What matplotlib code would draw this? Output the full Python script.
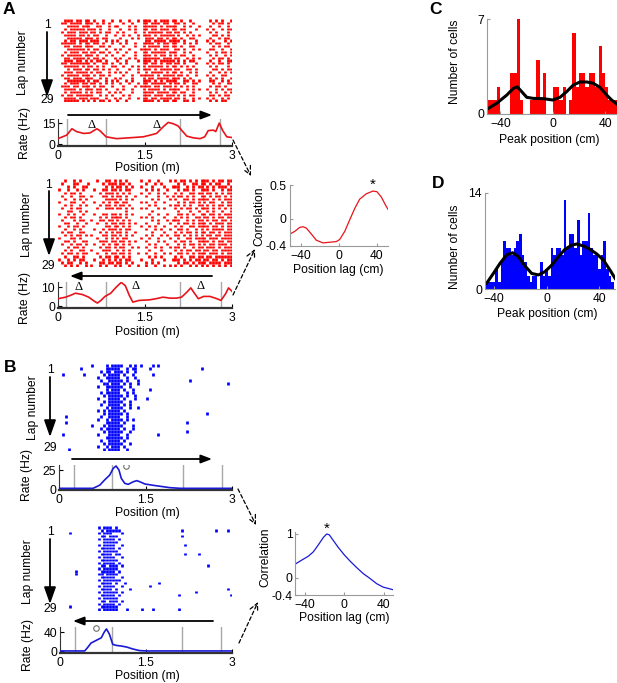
import numpy as np
import matplotlib
matplotlib.use('Agg')
import matplotlib.pyplot as plt
from matplotlib.patches import FancyArrowPatch

plt.rcParams['font.family'] = ['Liberation Sans', 'DejaVu Sans']
FS = 8.7
W, H = 617, 683
BIN = 0.05   # raster bin (m), one char per bin

# ---------------- data ----------------
# rasters: one string per lap, '|' = spike in that 5 cm bin
A_top_laps = [
    "..|||.||.| |.|..|..|. .|..|..|.| ||.|.|||.| |.|..|.... ..|.|.|..|",
    ".||.||||.| ||.|.|.|.. ..|..|...| |.|||.||.. ||.|..|... ...|.||.|.",
    "...||||.|| |..||..|.| |...|.|..| ||||.|.||| |..|.|..|. ..|..|..|.",
    "..|.|||||. |||.|..|.. .|..|.|..| |.||.|||.| |.||...|.. .|.|..|.||",
    ".|.|||.||| .||.|.||.. |.|...|..| .|||||.||. ||.|.|.... ..|.|...|.",
    "..||||.||. |.||..|..| ..|.|..|.| ||.|.||||| .|..|.|.|. ...||.|.|.",
    "...|||||.| ||.|.||... .|...|.|.. |||.||.|.| |.|..||... ..|..|.||.",
    "..|.||.||| .|||..|.|. |..|...... ||.||||.|| ||.|...|.. .|.|...|.|",
    ".|||||.|.| |.||.|..|. .|.|..|..| |||.|.||.| |..|.|.|.. ..|.||..|.",
    "..||.|||.| ||..||.|.. ..|...|..| .||||.||.| |.|..||... ...|.|.||.",
    "...||||||. |.||..|..| .|..|...|| ||.|.|||.. ||.|..|.|. ..||..|..|",
    "..|.|||.|| .||.||.|.. |..|..|..| |.|||||.|| |..|.|.... .|..|.||.|",
    ".|.|||||.| ||.|..|.|. ..|...|..| ||.|.||.|. |.||..|... ..|.|..|.|",
    "..||.||||. |.||.|...| .|..|.|..| |||||.|||. ||..|.|.|. ...|.||.|.",
    "..|||.||.| .|.||.|... |..|...|.| ||.|.||||| .|.|.||... ..|..|..||",
    ".||.|||||| |.|..||.|. .|.|.....| |.||.|.||. ||.|...|.. .|.|.||.|.",
    "..|||||.|. ||.|.|..|| ..|..|.|.| .|||||.|.| |.|.|.|... ..|.|...|.",
    "...|.|||.| |.||.|.|.. |...|..|.| ||.|.||||. ||..||.|.. ...||.|.||",
    "..|||.|||| .|.||..|.| .|.|...|.. |.||||.|.| |.|..|.|.. ..|..|.|.|",
    ".|.||||.|| |.|.||.|.. ..|..|..|| |||.|.|||| .||.|..|.. .|.|..||..",
    "..||.|||.| ||..|.|..| .|...|...| .||.||||.| ||.|.|.... ..|.|.|..|",
    "...||||||. |.||..|.|. |..|.|...| ||.|.|.||| |..||.|.|. ..||..|.|.",
    "..|.|||.|| .||.|.|.|. .|..|..|.| |.|||||.|. ||.|..||.. ...|.|..||",
    ".|||.||.|| |.|.||..|. ..|...|.|| ||.||.|||. |.|.|.|... ..|.||.|..",
    "..||||.|.| ||.||.|... |.|..|...| .||||.|.|| ||..|.|.|. .|..|.|.||",
    "..|.||||.| .|.||..|.| .|...|...| |||.||||.| |.||..|... ..|.|..|.|",
    ".|.||.|||| ||..|.|.|. ..|.|....| ||.|||.||| .|.|.||... ..||.|.||.",
    "..||||.||| .|||..|..| .|..|..|.| |.||.||||. ||.|..|.|. .|.|..|.|.",
    "..|||||.|. |.|.||.|.. |..|.....| |||.|.||.| |..||.|... ..|.|.||..",
]
A_bot_laps = [
    "..|..|.|.. ...|..||.| .|.|....|. .|..|...|. |.||.|.|.| ||.|.||.||",
    ".|...||... |....|.||| .||.|..... |..|.|.... .|.|..||.| |.|.||..|.",
    "...|.|..|| ......|.|. ||.|.|..|. ..|...|..| ||..|.|.|| .|.|.|||.|",
    "|..|..|.|. ..|..||.|| .|.||..... |.|.|..|.. .|.||.|..| ||.|..|.||",
    "..|.||.|.. ....|.|||. |.|.|...|. .|..|.|... |.|..||.|| .||.|.|.||",
    ".|..|..||. .|...||.|. ||.|..|... |...|..|.| .||.|.|..| |.|.||.|.|",
    "..|..|.|.| ......|||| .|.|.|.... ..|.|...|. |..||.|.|| ||.|.|.|||",
    "|...||..|. ..|..|.|.| |.||....|. |..|..|... .|.|.||.|. |.||..|.||",
    "..|.|..|.| ....|.||.| .||.|..... .|.|....|. ||.|.|..|| .|.|.||.||",
    ".|..|.||.. ...|..|||. ||.|.|..|. |...|.|... |.|.||.|.| ||.|.|.|.|",
    "...||..|.| .......... ...|...... ..|....... .|...|..|. .|.|..|..|",
    "|..|.|..|. ..|..||.|| .|.|.|.... .|..|..|.. .||.|.|..| |.||.|.|||",
    "..|.||.|.. ....|.|.|| ||.|....|. |.|...|... |.|.|..||. ||.|.||.||",
    ".|...|.||. .|..||.||. |.|.|..... ..|.|..|.| ||..|.|.|| .|.||.||.|",
    "..||..|..| ...|..|.|| .||.|.|... |...|...|. .|.||.|.|| |.|.|||.||",
    "|..|.||.|. ......||.| |.|.|...|. .|.|..|... |.|..||.|| ||.||.|.||",
    "..|..|.|.. ..|..|.||| .|.||..... |..|.|..|. .||.|..|.| .|.||||.||",
    ".|.||..||. ....|.|.|. ||.|..|... ..|...|... |.|.||.|.| |.||.|.|||",
    "..|.|.||.| .|...||.|| .|.|.|.... |.|..|.|.. ||.|.|.|.| .||.||.|||",
    "|...||.|.. ...|..|.|. |.||....|. .|..|...|. .|..||.||| |.|||.||||",
    "..||.|..|| ....|||.|| .||.|.|... |...|.|... |.||.|..|| ||.|.||.||",
    ".|..|.||.| ..|..|.|.| |.|.|..... .|.|...|.. .|.|.||.|. |.||.|||.|",
    "...|.||.|. ....|.||.| .||..|.|.. |..|.|..|. ||.|..|.|| .|||.|.|||",
    "..|.|..||. .|...|||.. |.|.|..... .|...|.... |.|.||.||. ||.||.||||",
    ".|.||.|.|| ...|..|.|| .||.|..|.. |..|..|.|. .||.|.|.|| |.|||.|.||",
    "..|..||.|. ....|.||.| |.|.|..... .|.|.|.... |.|..||.|| .||.||||||",
    "|..|.|.||. ..|..|.|.| .|.||...|. ..|...|..| ||.|.|.||. ||.||.|.||",
    ".|.||..|.| ....||.||. ||.|.|.... |.|.|..... .|.||.|.|| |.||||.|||",
    "..|.|.|..| .|..|.|..| .|..|..|.. |..|..|.|. |.|..|.|.| .|.|.|.|.|",
]
B_top_laps = [
    ".......... .|....|.|| ||..|.|.|. ..|.|..... .......... ..........",
    ".......|.. ......|||| |..|.||... .|........ .........| ..........",
    ".......... ....|.||.| ||.|..|... .......... .......... ..........",
    ".|......|. .....|.||| |.|..|.... ..|....... .......... ..........",
    ".......... ...|..|||| |..|..|... .......... .......... ..........",
    ".......... ....|..||| ||.|...|.. .......... .....|.... ..........",
    ".......... .....||.|| |.|.|..|.. .......... .......... ........|.",
    ".......... ...|..|||| ||..|..... .......... .......... ..........",
    ".......... ......|.|| |.|..|.... .|........ .......... ..........",
    ".......... ....|.|||| |..|.|.... .......... .......... ..........",
    ".......... .....|.||| ||.|..|... .......... .......... ..........",
    ".......... ...|...||| |.|...|... |......... .......... ..........",
    ".......... .....|.||| ||..|..... .......... .......... ..........",
    ".......... ....|..||| |.|.|..... .......... .......... ..........",
    ".......... ......|.|| ||..|..|.. .......... .......... ..........",
    ".......... ...|.|.||| |.|....... .......... .......... ..........",
    ".......... .....|.||| ||.|...... .......... .......... .|........",
    "..|....... ....|..||| |..|...... .......... .......... ..........",
    ".......... ...|..|.|| ||.|.|.... .......... .......... ..........",
    "..|....... ......|||| |.|....... .......... ....|..... ..........",
    ".......... .|...|.||| ||...|.... .......... .......... ..........",
    ".......... ....|.|||| |.|..|.... .......... .......... ..........",
    ".......... .....|.||| ||..|..... .......... ....|..... ..........",
    ".|........ ...|...||| |..|...... ....|..... .......... ..........",
    ".......... ......|||| ||.|...... .......... .......... ..........",
    ".......... ....|..||| |.|....... .......... .......... ..........",
    ".......... .....|.||| ||..|..... .......... .......... ..........",
    ".......... ...|..|.|| |.|....... .......... .......... ..........",
    "...|...... .....|.||| |..|...... .......... .......... ..........",
]
B_bot_laps = [
    ".......... ...|.|||.| .......... .......... .......... ..........",
    ".......... ....|.|||| |......... .......... ..|....... ....|...|.",
    "...|...... ...|.|||.. .|........ .......... .......... ..........",
    ".......... ....||.||| .......... .......... ..|....... ..........",
    ".......... ...|.||||. |......... .......... .......... ..........",
    ".......... .....||||| .......... .......... .......... ..........",
    ".......... ...|.||||. .|........ .......... ...|...... ..........",
    ".......... ....|||||. |......... .......... .......... ..........",
    ".......... ...|.||||| .......... .......... .......... ..........",
    ".......... ....||||.| |......... .......... ...|....|. ..........",
    ".......... ...|.||||. .|........ .......... .......... ..........",
    ".......... ....|||||| .......... .......... .......... ..........",
    ".......... ...|.||||. |......... .......... .......... ..........",
    ".......... ....||.||| .|........ .......... .......... .|........",
    ".......... ...|.||||| .......... .......... .......... ..........",
    ".....|.... ....|||||. |......... .......... .......... ..........",
    ".....|.... ...||.|||| .......... .......... .......... ..........",
    ".......... ....|||||. .|........ .......... .......... ..........",
    ".......... ...|.||||| |......... .......... .......... ..........",
    ".......... ....||||.| ..|....... ....|..... .......... ..........",
    ".......... ...|.||||. .|........ .|........ .......... ..........",
    ".......... ....||||.| ....|..... .......... .......... ........|.",
    ".......... ...|.||||| .|........ .......... .......|.. ..........",
    ".......... ....|||||. |......... .......... .|........ .........|",
    ".......... ...|.||||| .......... .......... .......... ..........",
    ".......... ....||.||| .|........ .......... .......... ..........",
    ".......... ...|.||||. |......... .......... .......... ..........",
    "...|...... ....|||||| .......... .......... .......... ..........",
    ".......... ...|.||||| ...|....|. ..|....... .|........ ..........",
]

# firing rate maps (position m, rate Hz)
A_top_pos = [0, 0.15, 0.24, 0.32, 0.44, 0.55, 0.67, 0.72, 0.83, 0.9, 1.01, 1.3, 1.47, 1.59, 1.7, 1.82,
             1.9, 1.99, 2.07, 2.13, 2.22, 2.33, 2.45, 2.53, 2.59, 2.68, 2.72, 2.78, 2.84, 2.91, 3.0]
A_top_rate = [4, 6.5, 11, 9, 7.7, 8, 11, 9.7, 5.3, 4.8, 4, 4.8, 5.3, 6.5, 7.7, 12.6,
              15.5, 14.5, 13, 10, 5.8, 4.6, 4, 5.3, 9.7, 10, 9, 15, 9.7, 5.3, 4.8]
A_bot_pos = [0, 0.13, 0.21, 0.30, 0.42, 0.53, 0.62, 0.68, 0.74, 0.81, 0.91, 1.0, 1.09, 1.16, 1.23, 1.29, 1.40,
             1.58, 1.69, 1.81, 1.93, 2.04, 2.13, 2.22, 2.29, 2.34, 2.42, 2.51, 2.62, 2.74, 2.81, 2.89, 2.94, 3.0]
A_bot_rate = [4, 4.8, 5.7, 6.9, 6.2, 4.8, 2.8, 1.7, 3.1, 5.2, 6.9, 10, 12.6, 10.9, 5.7, 2.2, 3.1,
              3.4, 4, 4.8, 4.3, 4.3, 4.8, 7.4, 9.7, 7.4, 4, 5.2, 5.2, 4, 3.1, 6.6, 9.7, 7.9]
B_top_pos = [0, 0.59, 0.65, 0.71, 0.79, 0.88, 0.94, 0.99, 1.04, 1.08, 1.14, 1.20, 1.29, 1.35, 1.40,
             1.49, 1.64, 1.81, 1.92, 2.1, 3.0]
B_top_rate = [0.9, 0.9, 3, 5.3, 11.8, 18.4, 27.2, 30.3, 25, 14, 7.5, 6.1, 9.6, 11, 9.6,
              6.6, 4.8, 3, 1.8, 0.9, 0.9]
B_bot_pos = [0, 0.43, 0.48, 0.54, 0.63, 0.72, 0.77, 0.81, 0.86, 0.92, 0.98, 1.07, 1.16, 1.27, 1.39, 1.51, 3.0]
B_bot_rate = [0.7, 0.7, 7.6, 17.2, 22.8, 28.3, 40, 46.9, 36.5, 14.5, 12.4, 11, 9, 4.8, 1.4, 0.7, 0.7]

# track corners (gray lines), field markers
A_top_corners = [0.155, 0.83, 2.1, 2.79]
A_bot_corners = [0.14, 0.82, 2.11, 2.81]
B_top_corners = [0.255, 0.92, 2.15, 2.83]
B_bot_corners = [0.27, 0.91, 2.13, 2.81]
A_top_delta = [(0.58, 13.6), (1.7, 13.6)]
A_bot_delta = [(0.35, 10.4), (1.33, 10.6), (2.45, 10.6)]
B_top_circle = (1.17, 30.3)
B_bot_circle = (0.62, 49.0)

# cross-correlations
A_lag = [-52, -46.7, -41.4, -37.9, -34.4, -29, -23.9, -16.8, -9.8, -2.8, 0.7, 6, 11.2, 16.5, 21.8,
         28.8, 35.8, 40, 44.6, 49, 52]
A_corr = [-0.23, -0.19, -0.13, -0.12, -0.14, -0.23, -0.32, -0.36, -0.35, -0.34, -0.31, -0.19, -0.02, 0.15, 0.29,
          0.37, 0.41, 0.40, 0.32, 0.2, 0.13]
B_lag = [-50, -43.5, -36.7, -31.6, -26.5, -21.4, -18, -15.3, -11.2, -6.1, 0, 5.8, 12.6, 19.4, 26.2,
         33, 39.8, 46.6, 50]
B_corr = [0.31, 0.4, 0.49, 0.59, 0.75, 0.92, 1.0, 0.98, 0.85, 0.69, 0.52, 0.38, 0.23, 0.09, -0.02,
          -0.14, -0.22, -0.26, -0.28]

# peak position histograms
C_centers = [-48.75, -46.25, -43.75, -41.25, -38.75, -36.25, -33.75, -31.25, -28.75, -26.25,
             -23.75, -21.25, -18.75, -16.25, -13.75, -11.25, -8.75, -6.25, -3.75, -1.25,
             1.25, 3.75, 6.25, 8.75, 11.25, 13.75, 16.25, 18.75, 21.25, 23.75,
             26.25, 28.75, 31.25, 33.75, 36.25, 38.75, 41.25, 43.75, 46.25, 48.75]
C_counts = [1, 1, 1, 2, 0, 0, 0, 3, 3, 7,
            1, 0, 0, 1, 1, 4, 1, 3, 0, 0,
            2, 2, 1, 2, 0, 1, 6, 2, 3, 3,
            2, 3, 3, 2, 5, 3, 2, 1, 1, 1]
C_fit_x = [-49, -42.7, -35, -30, -27, -23.7, -19.8, -14.8, -7.1, 0, 5.6, 10.7, 15.8, 20.9, 26, 31, 36, 41.2, 45, 48.9, 50]
C_fit_y = [0.42, 0.79, 1.4, 1.89, 2.0, 1.65, 1.23, 1.15, 1.13, 1.03, 1.23, 1.65, 2.14, 2.36, 2.36, 2.26, 1.97, 1.4, 1.03, 0.74, 0.65]
D_centers = [-46, -44, -42, -40, -38, -36, -34, -32, -30, -28, -26, -24, -22, -20, -18, -16, -14, -12, -10, -8,
             -6, -4, -2, 0, 2, 4, 6, 8, 10, 12, 14, 16, 18, 20, 22, 24, 26, 28, 30, 32,
             34, 36, 38, 40, 42, 44, 46, 48, 50, 52]
D_counts = [1, 1, 1, 1, 3, 1, 4, 7, 6, 6, 5, 6, 7, 8, 5, 4, 2, 1, 2, 2,
            0, 4, 2, 3, 2, 6, 5, 6, 6, 5, 13, 6, 8, 8, 6, 10, 5, 7, 7, 11,
            6, 5, 5, 3, 5, 7, 3, 2, 1, 0]
D_fit_x = [-45.6, -40.5, -35.4, -30.4, -25.8, -21.5, -16.5, -11.4, -6.3, -1.3, 3.8, 8.9, 13.9, 19, 22.8,
           27.8, 32.9, 38, 43, 48, 51.9]
D_fit_y = [0.87, 2.3, 3.77, 4.98, 5.3, 4.73, 3.38, 2.3, 2.08, 2.56, 3.5, 4.73, 5.8, 6.4, 6.57,
           6.28, 5.8, 5.12, 4.25, 2.8, 1.59]

RED, BLUE = '#ff0000', '#0000ff'
REDLINE, BLUELINE = '#e8141b', '#1a1ad6'

# ---------------- helpers (pixel layout, top-left origin) ----------------
fig = plt.figure(figsize=(W / 100, H / 100), dpi=100)


def add_ax(l, t, r, b):
    ax = fig.add_axes([l / W, 1 - b / H, (r - l) / W, (b - t) / H])
    ax.patch.set_alpha(0)
    return ax


def fpt(x, y):
    return (x / W, 1 - y / H)


def ftext(x, y, s, **kw):
    kw.setdefault('ha', 'center'); kw.setdefault('va', 'center'); kw.setdefault('fontsize', FS)
    fig.text(x / W, 1 - y / H, s, **kw)


def farrow(p0, p1, style, ms, ls='-', lw=1.2):
    fig.add_artist(FancyArrowPatch(fpt(*p0), fpt(*p1), transform=fig.transFigure, arrowstyle=style,
                                   mutation_scale=ms, lw=lw, ls=ls, color='k', shrinkA=0, shrinkB=0))


def raster(box, laps, color):
    ax = add_ax(*box)
    for i, s in enumerate(laps):
        s = s.replace(' ', '')
        xs = [(k + 0.5) * BIN for k, c in enumerate(s) if c == '|']
        ax.vlines(xs, i + 0.62, i + 1.38, color=color, lw=1.95)
    ax.set_xlim(0, 3); ax.set_ylim(29.5, 0.5); ax.axis('off')
    return ax


def rate(box, pos, r, color, ylim, yt, corners):
    ax = add_ax(*box)
    for c in corners:
        ax.axvline(c, color='#a8a8a8', lw=1.0, zorder=1)
    ax.plot(pos, r, color=color, lw=1.2, zorder=3)
    ax.set_xlim(0, 3); ax.set_ylim(*ylim)
    ax.set_xticks([0, 1.5, 3]); ax.set_xticklabels(['0', '1.5', '3'])
    ax.set_yticks(yt)
    ax.tick_params(direction='in', length=3, labelsize=FS, pad=3)
    ax.tick_params(axis='y', pad=2)
    for s in ['top', 'right']:
        ax.spines[s].set_visible(False)
    ax.spines['bottom'].set_linewidth(1.6); ax.spines['bottom'].set_color('#333333')
    ax.spines['left'].set_linewidth(0.8); ax.spines['left'].set_color('#333333')
    return ax


def light_axes(ax):
    for s in ['top', 'right']:
        ax.spines[s].set_visible(False)
    for s in ['left', 'bottom']:
        ax.spines[s].set_color('#9a9a9a'); ax.spines[s].set_linewidth(0.8)
    ax.tick_params(direction='in', length=2, color='#9a9a9a', labelsize=FS, pad=3)
    ax.tick_params(axis='y', pad=2)


# ---------------- panel A ----------------
raster((58, 19, 232, 102), A_top_laps, RED)
ax = rate((58, 119, 232, 146), A_top_pos, A_top_rate, REDLINE, (-1.2, 17.9), [0, 15], A_top_corners)
for x, y in A_top_delta:
    ax.text(x, y, '\u0394', ha='center', va='center', fontsize=9, family='Liberation Serif')
raster((58, 179, 232, 267), A_bot_laps, RED)
ax = rate((58, 282, 232, 308), A_bot_pos, A_bot_rate, REDLINE, (-0.9, 12.8), [0, 10], A_bot_corners)
for x, y in A_bot_delta:
    ax.text(x, y, '\u0394', ha='center', va='center', fontsize=9, family='Liberation Serif')

ax = add_ax(289.6, 185, 388.4, 245.6)
ax.plot(A_lag, A_corr, color=REDLINE, lw=0.9)
ax.set_xlim(-52, 52); ax.set_ylim(-0.4, 0.5)
ax.set_xticks([-40, 0, 40]); ax.set_yticks([-0.4, 0, 0.5]); ax.set_yticklabels(['-0.4', '0', '0.5'])
light_axes(ax)
ax.text(35.8, 0.5, '*', ha='center', va='center', fontsize=11, clip_on=False)

# ---------------- panel B ----------------
raster((59, 364, 232, 451), B_top_laps, BLUE)
ax = rate((59, 465, 232, 490), B_top_pos, B_top_rate, BLUELINE, (-1.3, 31.6), [0, 25], B_top_corners)
ax.plot(*B_top_circle, 'o', mfc='none', mec='#707070', ms=4, mew=0.8)
raster((60, 526, 232, 611), B_bot_laps, BLUE)
ax = rate((60, 627, 232, 653), B_bot_pos, B_bot_rate, BLUELINE, (-3.6, 51), [0, 40], B_bot_corners)
ax.plot(*B_bot_circle, 'o', mfc='none', mec='#707070', ms=4, mew=0.8, clip_on=False)

ax = add_ax(295.3, 531.8, 393.3, 595)
ax.plot(B_lag, B_corr, color=BLUELINE, lw=0.9)
ax.set_xlim(-50, 50); ax.set_ylim(-0.4, 1.05)
ax.set_xticks([-40, 0, 40]); ax.set_yticks([-0.4, 0, 1]); ax.set_yticklabels(['-0.4', '0', '1'])
light_axes(ax)
ax.text(-18, 1.12, '*', ha='center', va='center', fontsize=11, clip_on=False)

# ---------------- panels C, D ----------------
ax = add_ax(487.2, 19, 618.2, 114)
ax.bar(C_centers, C_counts, width=2.5, color=RED, lw=0)
ax.plot(C_fit_x, C_fit_y, color='k', lw=2.2)
ax.set_xlim(-50, 50); ax.set_ylim(0, 7)
ax.set_xticks([-40, 0, 40]); ax.set_yticks([0, 7])
light_axes(ax)

ax = add_ax(484.8, 192.7, 615.2, 289.3)
ax.bar(D_centers, D_counts, width=2.0, color=BLUE, lw=0)
ax.plot(D_fit_x, D_fit_y, color='k', lw=2.2)
ax.set_xlim(-47, 52); ax.set_ylim(0, 14)
ax.set_xticks([-40, 0, 40]); ax.set_yticks([0, 14])
light_axes(ax)

# ---------------- labels and arrows ----------------
for (x, y, s) in [(9, 10, 'A'), (10, 367, 'B'), (436, 9, 'C'), (438, 183, 'D')]:
    ftext(x, y, s, fontsize=12.5, fontweight='bold')

for x, y in [(147, 168), (147, 332), (147, 513), (147, 676)]:
    ftext(x, y, 'Position (m)')
for x, y in [(23, 63), (27, 225), (33, 408), (28, 572)]:
    ftext(x, y, 'Lap number', rotation=90)
for x, y in [(25, 133), (25, 298), (27, 475), (28, 645)]:
    ftext(x, y, 'Rate (Hz)', rotation=90)
for x, y1, y29 in [(47, 25, 100), (48, 185, 266), (50, 370, 448), (50, 532, 609)]:
    ftext(x, y1, '1')
    ftext(x, y29, '29')
ftext(338, 270, 'Position lag (cm)')
ftext(344, 618, 'Position lag (cm)')
ftext(259, 216, 'Correlation', rotation=90)
ftext(265, 557, 'Correlation', rotation=90)
ftext(549, 140, 'Peak position (cm)')
ftext(547, 314, 'Peak position (cm)')
ftext(455, 62, 'Number of cells', rotation=90)
ftext(455, 247, 'Number of cells', rotation=90)

vert = '-|>,head_length=0.85,head_width=0.3'
for x, y0, y1 in [(47, 32, 97), (49, 191, 256), (50, 377, 437), (50, 539, 604)]:
    farrow((x, y0), (x, y1), vert, 12, lw=1.3)
horiz = '-|>,head_length=0.55,head_width=0.21'
farrow((68, 115), (212, 115), horiz, 12, lw=1.3)
farrow((212, 276), (70, 276), horiz, 12, lw=1.3)
farrow((72, 459), (212, 459), horiz, 12, lw=1.3)
farrow((213, 621), (73, 621), horiz, 12, lw=1.3)

dash = '->,head_length=0.5,head_width=0.25'
farrow((233, 140), (251, 176), dash, 12, ls=(0, (3, 2)), lw=0.9)
farrow((233, 295), (255, 249), dash, 12, ls=(0, (3, 2)), lw=0.9)
farrow((238, 489), (256, 525), dash, 12, ls=(0, (3, 2)), lw=0.9)
farrow((239, 643), (258, 602), dash, 12, ls=(0, (3, 2)), lw=0.9)

fig.savefig('out.png', dpi=100)
